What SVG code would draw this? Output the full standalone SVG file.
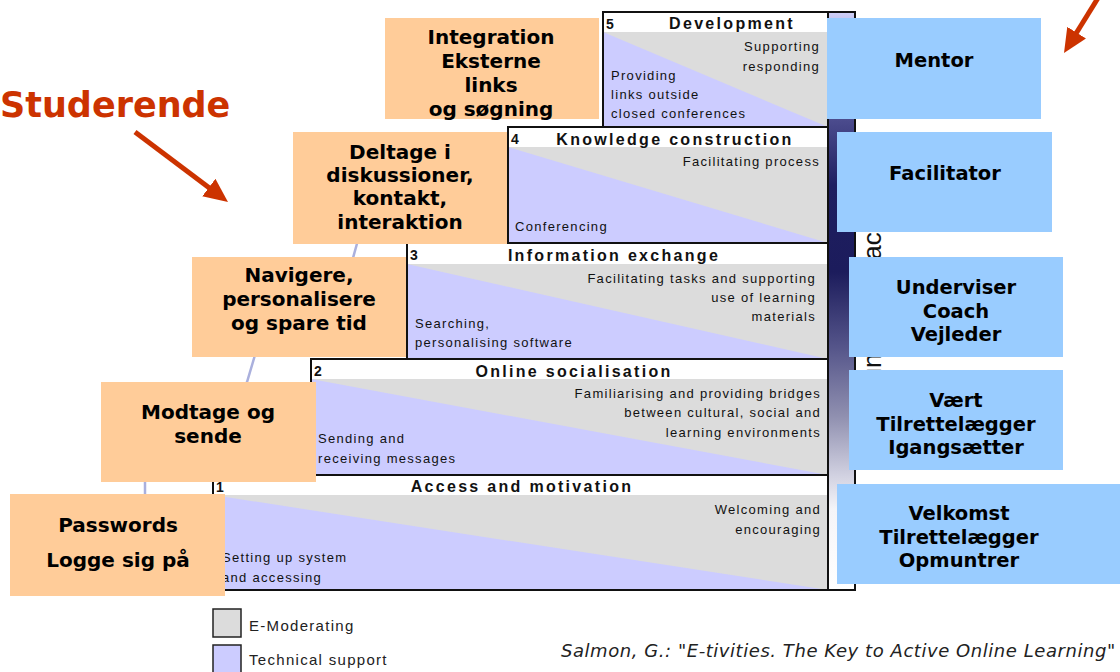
<svg xmlns="http://www.w3.org/2000/svg" width="1120" height="672" viewBox="0 0 1120 672">
<defs>
<style>
.hdr{font-family:"Liberation Sans",Arial,sans-serif;font-weight:bold;font-size:16px;letter-spacing:2.3px;fill:#111;text-anchor:middle}
.num{font-family:"Liberation Sans",Arial,sans-serif;font-weight:bold;font-size:14px;fill:#111}
.txt{font-family:"Liberation Sans",Arial,sans-serif;font-size:13px;letter-spacing:1.3px;fill:#111}
.r{text-anchor:end}
.hd{fill:#ffffff}
.gr{fill:#dcdcdc}
.lv{fill:#ccccff}
.ln{stroke:#111;stroke-width:2;fill:none}
.ob{fill:#ffcc99}
.bb{fill:#99ccff}
.bt{font-family:"DejaVu Sans",Verdana,sans-serif;font-weight:bold;font-size:20px;fill:#000;text-anchor:middle}
.bt2{font-family:"DejaVu Sans",Verdana,sans-serif;font-weight:bold;font-size:19.5px;fill:#000;text-anchor:middle}
.leg{font-family:"Liberation Sans",Arial,sans-serif;font-size:15px;letter-spacing:1.3px;fill:#222}
.red{stroke:#cc3300;stroke-width:5;fill:none}
</style>
<marker id="ah" markerUnits="userSpaceOnUse" markerWidth="24" markerHeight="22" viewBox="0 0 24 22" refX="12" refY="11" orient="auto">
<path d="M0,0 L24,11 L0,22 z" fill="#cc3300"/>
</marker>
<linearGradient id="barg" gradientUnits="userSpaceOnUse" x1="0" y1="12" x2="0" y2="590">
<stop offset="0" stop-color="#d0d0f8"/>
<stop offset="0.1" stop-color="#7a7ab8"/>
<stop offset="0.19" stop-color="#4a4a8c"/>
<stop offset="0.3" stop-color="#1e1e60"/>
<stop offset="0.45" stop-color="#1c1c5c"/>
<stop offset="0.58" stop-color="#55558a"/>
<stop offset="0.7" stop-color="#9090b0"/>
<stop offset="0.8" stop-color="#d0d0e0"/>
<stop offset="0.86" stop-color="#f4f4f8"/>
<stop offset="1" stop-color="#ffffff"/>
</linearGradient>
</defs>
<rect x="0" y="0" width="1120" height="672" fill="#ffffff"/>

<g id="connectors">
<path d="M145,500 L145,478 C146,440 232,420 247,382 L255,355 C262,320 340,290 353,258 L358,240" stroke="#aab0dd" stroke-width="2.5" fill="none"/>
<line class="red" x1="135" y1="132" x2="218.4" y2="194.8" marker-end="url(#ah)"/>
<line class="red" x1="1098" y1="-2" x2="1070.3" y2="42.8" marker-end="url(#ah)"/>
</g>

<g id="staircase">
<g id="step5">
<rect class="hd" x="603" y="12" width="225" height="20"/>
<rect class="gr" x="603" y="32" width="225" height="95"/>
<polygon class="lv" points="603,32 603,127 828,127"/>
<path class="ln" d="M603,127 L603,12 L828,12"/>
<text class="num" x="606" y="29">5</text>
<text class="hdr" x="732" y="29">Development</text>
<text class="txt r" x="820" y="51">Supporting</text>
<text class="txt r" x="820" y="71">responding</text>
<text class="txt" x="611" y="80">Providing</text>
<text class="txt" x="611" y="99">links outside</text>
<text class="txt" x="611" y="118">closed conferences</text>
</g>
<g id="step4">
<rect class="hd" x="508" y="127" width="320" height="20"/>
<rect class="gr" x="508" y="147" width="320" height="96"/>
<polygon class="lv" points="508,147 508,243 828,243"/>
<path class="ln" d="M508,243 L508,127 L828,127"/>
<text class="num" x="511" y="144">4</text>
<text class="hdr" x="675" y="145">Knowledge construction</text>
<text class="txt r" x="820" y="166">Facilitating process</text>
<text class="txt" x="515" y="231">Conferencing</text>
</g>
<g id="step3">
<rect class="hd" x="407" y="243" width="421" height="21"/>
<rect class="gr" x="407" y="264" width="421" height="95"/>
<polygon class="lv" points="407,264 407,359 828,359"/>
<path class="ln" d="M407,359 L407,243 L828,243"/>
<text class="num" x="410" y="260">3</text>
<text class="hdr" x="614" y="261">Information exchange</text>
<text class="txt r" x="816" y="283">Facilitating tasks and supporting</text>
<text class="txt r" x="816" y="302">use of learning</text>
<text class="txt r" x="816" y="321">materials</text>
<text class="txt" x="415" y="328">Searching,</text>
<text class="txt" x="415" y="347">personalising software</text>
</g>
<g id="step2">
<rect class="hd" x="311" y="359" width="517" height="20"/>
<rect class="gr" x="311" y="379" width="517" height="96"/>
<polygon class="lv" points="311,379 311,475 828,475"/>
<path class="ln" d="M311,475 L311,359 L828,359"/>
<text class="num" x="314" y="376">2</text>
<text class="hdr" x="574" y="377">Online socialisation</text>
<text class="txt r" x="821" y="398">Familiarising and providing bridges</text>
<text class="txt r" x="821" y="417">between cultural, social and</text>
<text class="txt r" x="821" y="437">learning environments</text>
<text class="txt" x="318" y="443">Sending and</text>
<text class="txt" x="318" y="463">receiving messages</text>
</g>
<g id="step1">
<rect class="hd" x="213" y="475" width="615" height="20"/>
<rect class="gr" x="213" y="495" width="615" height="95"/>
<polygon class="lv" points="213,495 213,590 828,590"/>
<path class="ln" d="M213,590 L213,475 L828,475"/>
<text class="num" x="216" y="492">1</text>
<text class="hdr" x="522" y="492">Access and motivation</text>
<text class="txt r" x="821" y="514">Welcoming and</text>
<text class="txt r" x="821" y="534">encouraging</text>
<text class="txt" x="222" y="562">Setting up system</text>
<text class="txt" x="222" y="582">and accessing</text>
</g>
<g id="bar">
<rect x="828" y="12" width="27" height="578" fill="url(#barg)"/>
<path class="ln" d="M828,12 L855,12 L855,590 L213,590 M828,12 L828,590"/>
</g>
</g>

<text transform="translate(881,436) rotate(-90)" font-family="Liberation Sans, Arial, sans-serif" font-size="26" fill="#111">Amount of interaction</text>

<g id="node-integration">
<rect class="ob" x="385" y="18" width="214" height="101"/>
<text class="bt" x="491" y="44">Integration</text>
<text class="bt" x="491" y="68">Eksterne</text>
<text class="bt" x="491" y="92">links</text>
<text class="bt" x="491" y="116">og søgning</text>
</g>
<g id="node-deltage">
<rect class="ob" x="293" y="132" width="214" height="112"/>
<text class="bt" x="400" y="159">Deltage i</text>
<text class="bt" x="400" y="182">diskussioner,</text>
<text class="bt" x="400" y="205">kontakt,</text>
<text class="bt" x="400" y="229">interaktion</text>
</g>
<g id="node-navigere">
<rect class="ob" x="192" y="257" width="214" height="100"/>
<text class="bt" x="299" y="282">Navigere,</text>
<text class="bt" x="299" y="306">personalisere</text>
<text class="bt" x="299" y="330">og spare tid</text>
</g>
<g id="node-modtage">
<rect class="ob" x="101" y="382" width="215" height="100"/>
<text class="bt" x="208" y="419">Modtage og</text>
<text class="bt" x="208" y="443">sende</text>
</g>
<g id="node-passwords">
<rect class="ob" x="10" y="494" width="215" height="102"/>
<text class="bt" x="118" y="532">Passwords</text>
<text class="bt" x="118" y="567">Logge sig på</text>
</g>

<g id="node-mentor">
<rect class="bb" x="827" y="18" width="214" height="101"/>
<text class="bt2" x="934" y="67">Mentor</text>
</g>
<g id="node-facilitator">
<rect class="bb" x="837" y="132" width="215" height="100"/>
<text class="bt2" x="945" y="180">Facilitator</text>
</g>
<g id="node-underviser">
<rect class="bb" x="849" y="257" width="214" height="100"/>
<text class="bt2" x="956" y="294">Underviser</text>
<text class="bt2" x="956" y="318">Coach</text>
<text class="bt2" x="956" y="341">Vejleder</text>
</g>
<g id="node-vaert">
<rect class="bb" x="849" y="370" width="214" height="100"/>
<text class="bt2" x="956" y="407">Vært</text>
<text class="bt2" x="956" y="431">Tilrettelægger</text>
<text class="bt2" x="956" y="454">Igangsætter</text>
</g>
<g id="node-velkomst">
<rect class="bb" x="837" y="484" width="283" height="100"/>
<text class="bt2" x="959" y="520">Velkomst</text>
<text class="bt2" x="959" y="544">Tilrettelægger</text>
<text class="bt2" x="959" y="567">Opmuntrer</text>
</g>

<g id="label-studerende">
<text x="0" y="117" font-family="DejaVu Sans, Verdana, sans-serif" font-weight="bold" font-size="35" fill="#cc3300">Studerende</text>
</g>

<g id="legend">
<rect x="213" y="609" width="28" height="28" fill="#dcdcdc" stroke="#222" stroke-width="1.5"/>
<text class="leg" x="249" y="631">E-Moderating</text>
<rect x="213" y="645" width="28" height="28" fill="#ccccff" stroke="#222" stroke-width="1.5"/>
<text class="leg" x="249" y="665">Technical support</text>
</g>

<text x="561" y="657" font-family="DejaVu Sans, Verdana, sans-serif" font-style="italic" font-size="18" letter-spacing="0.55" fill="#222">Salmon, G.: "E-tivities. The Key to Active Online Learning"</text>
</svg>
